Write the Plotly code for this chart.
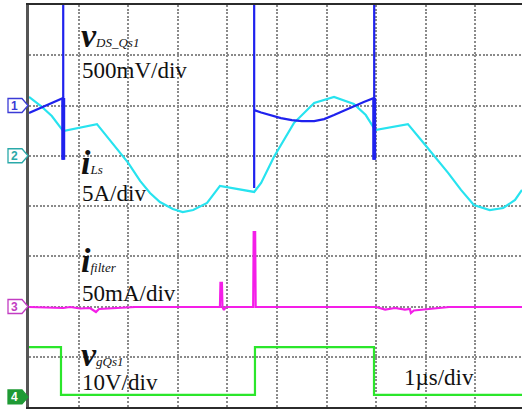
import plotly.graph_objects as go

# Scope screen: 10 x 8 divisions, time axis 1 us/div, traces in divisions
T_SPAN = 9.94  # visible part of the 10-div screen
N_DIV_Y = 8

# CH1  v_DS_Qs1 (on-state part; off-state voltage runs off-screen)
ch1_t = [0.00, 0.69, 0.69, 0.69, None, 4.54, 4.54, 4.54, 4.68, 4.90, 5.08, 5.30, 5.50, 5.75, 5.95, 6.15, 6.35, 6.55, 6.75, 6.96, 6.96, 6.96]
ch1_v = [5.85, 6.15, 4.92, 9.00, None, 9.00, 4.36, 5.91, 5.86, 5.80, 5.75, 5.71, 5.69, 5.69, 5.73, 5.81, 5.90, 5.99, 6.07, 6.15, 4.92, 9.00]
# ringing band at the turn-off edges
ch1_ring_t = [0.69, 0.69, None, 6.96, 6.96]
ch1_ring_v = [6.15, 4.92, None, 6.15, 4.92]

# CH2  i_Ls
ch2_t = [0.00, 0.24, 0.46, 0.69, 1.37, 1.63, 2.00, 2.24, 2.44, 2.64, 2.90, 3.10, 3.31, 3.59,
         3.85, 4.54, 4.68, 4.94, 5.34, 5.75, 6.15, 6.55, 6.79, 6.98, 7.64, 7.96, 8.45, 8.71,
         8.97, 9.29, 9.56, 9.80, 9.94]
ch2_v = [6.17, 5.99, 5.79, 5.49, 5.63, 5.31, 4.86, 4.50, 4.26, 4.08, 3.94, 3.88, 3.92, 4.06,
         4.40, 4.28, 4.46, 4.98, 5.65, 6.05, 6.17, 6.03, 5.81, 5.51, 5.63, 5.25, 4.66, 4.32,
         4.02, 3.92, 3.96, 4.12, 4.32]

# CH3  i_filter
ch3_t = [0.00, 0.69, 0.83, 1.03, 1.23, 1.35, 1.41, 1.73, 2.14, 3.85, 3.86, 3.89, 3.90, 3.93,
         3.97, 4.52, 4.53, 4.56, 4.57, 7.00, 7.18, 7.38, 7.58, 7.68, 7.70, 7.76, 8.04, 8.47, 9.94]
ch3_v = [1.99, 1.97, 1.99, 1.96, 1.97, 1.89, 1.95, 1.97, 1.99, 1.99, 2.47, 2.47, 1.99, 1.93,
         1.99, 1.99, 3.48, 3.48, 1.99, 1.99, 1.94, 1.97, 1.94, 1.95, 1.87, 1.92, 1.95, 1.99, 1.99]

# CH4  gate signal v_gQs1
ch4_t = [0.00, 0.645, 0.645, 4.556, 4.556, 6.956, 6.956, 9.94]
ch4_v = [1.19, 1.19, 0.24, 0.24, 1.19, 1.19, 0.24, 0.24]

# channel ground markers: (label, level in div, colour, filled)
markers = [("1", 6.0, "#3b3bd6", False),
           ("2", 5.0, "#2aa9a9", False),
           ("3", 2.0, "#c23cc2", False),
           ("4", 0.2, "#1f9a35", True)]

BLUE = "#1f22ee"
CYAN = "#27e3ef"
MAGENTA = "#f41ee8"
GREEN = "#2be62b"

fig = go.Figure()
fig.add_trace(go.Scatter(x=ch2_t, y=ch2_v, mode="lines", line=dict(color=CYAN, width=2.2),
                         connectgaps=False, hoverinfo="skip"))
fig.add_trace(go.Scatter(x=ch1_t, y=ch1_v, mode="lines", line=dict(color=BLUE, width=2.2),
                         connectgaps=False, hoverinfo="skip"))
fig.add_trace(go.Scatter(x=ch1_ring_t, y=ch1_ring_v, mode="lines", line=dict(color=BLUE, width=4),
                         connectgaps=False, hoverinfo="skip"))
fig.add_trace(go.Scatter(x=ch3_t, y=ch3_v, mode="lines", line=dict(color=MAGENTA, width=2.2),
                         hoverinfo="skip"))
fig.add_trace(go.Scatter(x=ch4_t, y=ch4_v, mode="lines", line=dict(color=GREEN, width=2.2),
                         hoverinfo="skip"))

SERIF = "Liberation Serif"
big = 34
small = 13


def sym(main, sub):
    return (f"<span style='font-size:{big}px'><b><i>{main}</i></b></span>"
            f"<span style='font-size:{small}px'><i>{sub}</i></span>")


labels = [
    (sym("v", "DS_Qs1"), 1.00, 7.40),
    ("500mV/div", 1.02, 6.70),
    (sym("i", "Ls"), 1.00, 4.86),
    ("5A/div", 1.02, 4.25),
    (sym("i", "filter"), 1.00, 2.91),
    ("50mA/div", 1.02, 2.26),
    (sym("v", "gQs1"), 1.00, 1.04),
    ("10V/div", 1.02, 0.49),
    ("1\u00b5s/div", 7.52, 0.58),
]
annotations = []
for txt, x, y in labels:
    annotations.append(dict(text=txt, x=x, y=y, xref="x", yref="y", xanchor="left",
                            yanchor="middle", showarrow=False,
                            font=dict(family=SERIF, size=23, color="#111111")))

shapes = []
for lab, lvl, col, filled in markers:
    shapes.append(dict(type="path", xref="paper", yref="paper", xsizemode="pixel",
                       ysizemode="pixel", xanchor=0, yanchor=lvl / N_DIV_Y,
                       path="M -21 -7 L -7 -7 L -1 0 L -7 7 L -21 7 Z",
                       line=dict(color=col, width=1.3),
                       fillcolor=col if filled else "white", layer="above"))
    annotations.append(dict(text=f"<b>{lab}</b>", x=0, y=lvl, xref="paper", yref="y",
                            xshift=-15, showarrow=False, xanchor="center", yanchor="middle",
                            font=dict(family="Liberation Sans", size=12,
                                      color="white" if filled else col)))

grid = dict(showgrid=True, gridcolor="#8a8a8a", gridwidth=1.5, griddash="2px,1.6px",
            dtick=1, tick0=0, showticklabels=False, ticks="", zeroline=False)

fig.update_layout(
    width=522, height=410,
    margin=dict(l=29, r=0, t=5, b=3),
    paper_bgcolor="white", plot_bgcolor="white",
    showlegend=False,
    xaxis=dict(range=[0, T_SPAN], showline=True, linecolor="#2b2b2b", linewidth=2,
               mirror=True, **grid),
    yaxis=dict(range=[0, N_DIV_Y], showline=True, linecolor="#555555", linewidth=2.5,
               mirror=False, **grid),
    annotations=annotations,
    shapes=shapes,
)

fig.write_html("out.html")
